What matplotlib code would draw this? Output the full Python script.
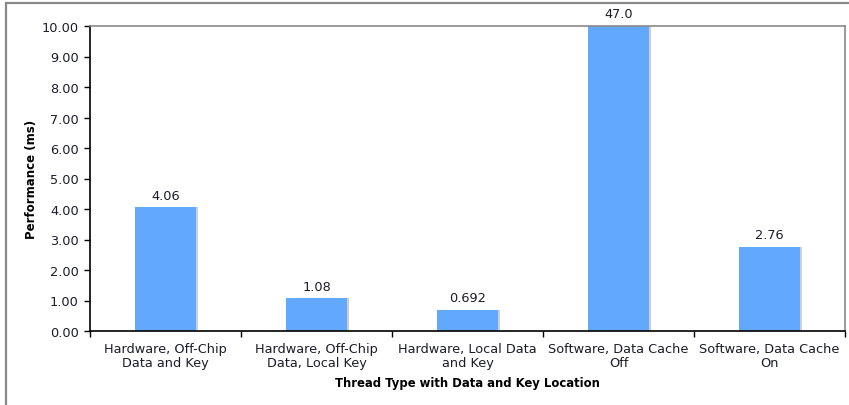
import matplotlib
matplotlib.use("Agg")
import matplotlib.pyplot as plt
from matplotlib.lines import Line2D

categories = [
    "Hardware, Off-Chip\nData and Key",
    "Hardware, Off-Chip\nData, Local Key",
    "Hardware, Local Data\nand Key",
    "Software, Data Cache\nOff",
    "Software, Data Cache\nOn",
]
values = [4.06, 1.08, 0.692, 47.0, 2.76]
value_labels = ["4.06", "1.08", "0.692", "47.0", "2.76"]
y_ticks = [0, 1, 2, 3, 4, 5, 6, 7, 8, 9, 10]

W, H = 849, 406
fig = plt.figure(figsize=(W / 100, H / 100), dpi=100)
ax = fig.add_axes([90 / W, 1 - 332 / H, (845 - 90) / W, (332 - 27) / H])

text_color = "#1c1c2a"
bar_color = "#62a8ff"
xs = list(range(len(values)))

# soft drop shadow to the right of each bar
ax.bar([x + 0.016 for x in xs], values, width=0.4, color="#cfcfcf", zorder=1)
ax.bar(xs, values, width=0.4, color=bar_color, zorder=2)

ax.set_xlim(-0.5, len(values) - 0.5)
ax.set_ylim(0, 10)
ax.set_yticks(y_ticks)
ax.set_yticklabels([f"{v:.2f}" for v in y_ticks], fontsize=9.3, color=text_color)

ax.set_xticks(xs)
ax.set_xticklabels(categories, fontsize=9.3, color=text_color, linespacing=1.1)
ax.tick_params(axis="x", length=0, pad=8)
ax.set_xticks([x - 0.5 for x in range(len(values) + 1)], minor=True)
ax.tick_params(axis="x", which="minor", length=4, width=1, color="#000000", direction="out")
ax.tick_params(axis="y", length=4, width=1, direction="out", pad=4)

for x, v, lab in zip(xs, values, value_labels):
    ax.annotate(lab, xy=(x, min(v, 10)), xytext=(0, 4), textcoords="offset points",
                ha="center", va="bottom", fontsize=9.3, color=text_color,
                annotation_clip=False)

ax.set_ylabel("Performance (ms)", fontsize=8.5, fontweight="bold", color="#000000", labelpad=3)
ax.set_xlabel("Thread Type with Data and Key Location", fontsize=8.4, fontweight="bold",
              color="#000000", labelpad=5)

for side in ("left", "bottom"):
    ax.spines[side].set_color("#000000")
    ax.spines[side].set_linewidth(1.2)
for side in ("top", "right"):
    ax.spines[side].set_color("#8a8a8a")
    ax.spines[side].set_linewidth(1.2)

# outer frame lines along the top and left edges
fig.add_artist(Line2D([5.5 / W, 5.5 / W], [0, 1 - 4 / H], transform=fig.transFigure,
                      color="#8a8a8a", linewidth=1.6))
fig.add_artist(Line2D([5.5 / W, 1], [1 - 4 / H, 1 - 4 / H], transform=fig.transFigure,
                      color="#8a8a8a", linewidth=1.6))

fig.savefig("out.png", dpi=100)
